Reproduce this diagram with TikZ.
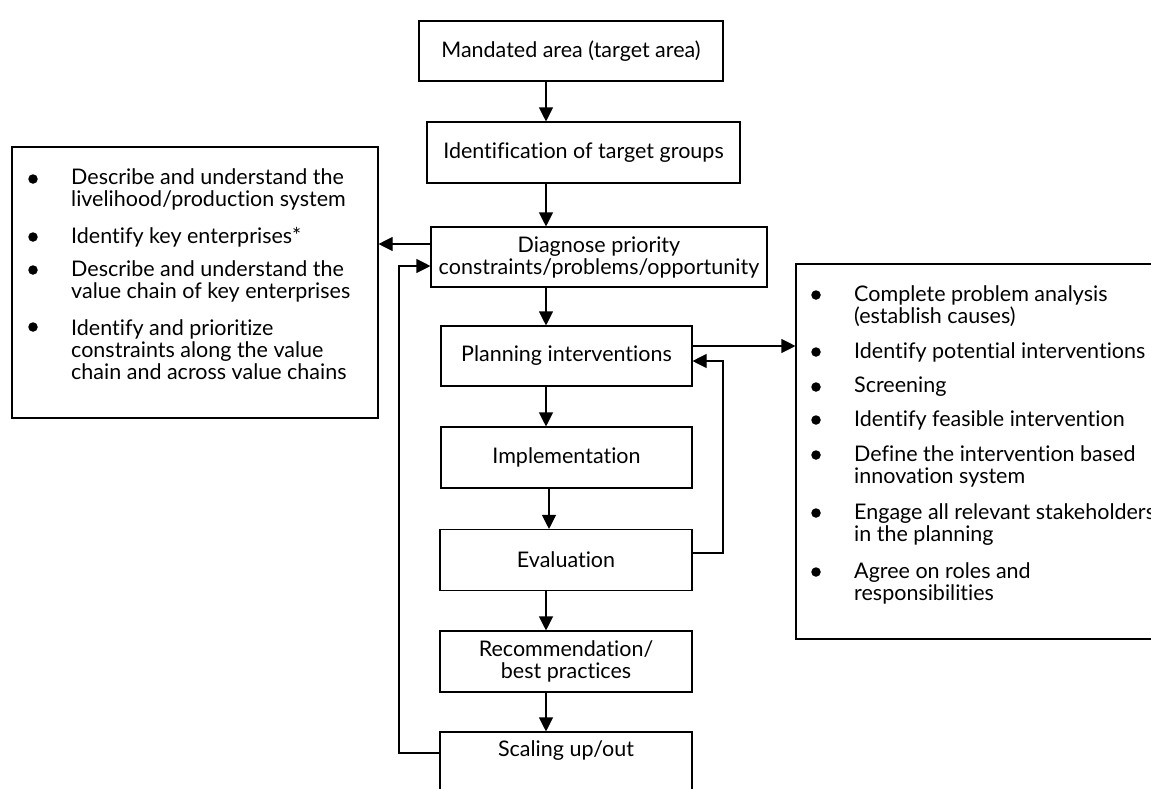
\documentclass[tikz,border=0pt]{standalone}
\usepackage{fontspec}
\setmainfont{Lato}[Ligatures={NoCommon}]
\usetikzlibrary{arrows.meta}
\begin{document}
\begin{tikzpicture}[x=1pt,y=-1pt, font=\fontsize{21.5}{22}\selectfont,
  box/.style={draw,line width=1.1pt,align=center,inner sep=0pt},
  arr/.style={line width=1.1pt,-{Triangle[length=14pt,width=14pt]}},
  conn/.style={line width=1.1pt},
  bul/.style={circle,fill,inner sep=0pt,minimum size=9.5pt},
  itm/.style={anchor=west,align=left,inner sep=0pt}]
\clip (0,0) rectangle (1151,788);
% main flow boxes
\node[box,minimum width=304pt,minimum height=60pt] (m) at (571,51) {Mandated area (target area)};
\node[box,minimum width=313pt,minimum height=61pt] (id) at (583.5,152.5) {Identification of target groups};
\node[box,minimum width=336pt,minimum height=60pt] (dg) at (599,257) {Diagnose priority\\constraints/problems/opportunity};
\node[box,minimum width=251pt,minimum height=60pt] (pl) at (566.5,356) {Planning interventions};
\node[box,minimum width=251pt,minimum height=61pt] (im) at (566.5,457.5) {Implementation};
\node[box,minimum width=252pt,minimum height=61pt] (ev) at (566,560) {Evaluation};
\node[box,minimum width=252pt,minimum height=61pt] (rc) at (566,661.5) {Recommendation/\\best practices};
\node[box,minimum width=252pt,minimum height=61pt] (sc) at (566,762.5) {Scaling up/out\\\strut};
% side boxes
\node[box,minimum width=366pt,minimum height=271pt] (lb) at (195,282.5) {};
\node[box,minimum width=364pt,minimum height=375pt] (rb) at (978,451.5) {};
% left box items
\node[bul] (lb1) at (33,179) {};
\node[itm] (lt1) at (71,189) {Describe and understand the\\livelihood/production system};
\node[bul] (lb2) at (33,237) {};
\node[itm] (lt2) at (71,237) {Identify key enterprises*};
\node[bul] (lb3) at (33,270) {};
\node[itm] (lt3) at (71,281) {Describe and understand the\\value chain of key enterprises};
\node[bul] (lb4) at (33,327) {};
\node[itm] (lt4) at (71,349.5) {Identify and prioritize\\constraints along the value\\chain and across value chains};
% right box items
\node[bul] (rb1) at (816,295) {};
\node[itm] (rt1) at (854,306) {Complete problem analysis\\(establish causes)};
\node[bul] (rb2) at (816,352) {};
\node[itm] (rt2) at (854,352) {Identify potential interventions};
\node[bul] (rb3) at (816,387) {};
\node[itm] (rt3) at (854,387) {Screening};
\node[bul] (rb4) at (816,420) {};
\node[itm] (rt4) at (854,420) {Identify feasible intervention};
\node[bul] (rb5) at (816,455) {};
\node[itm] (rt5) at (854,466.5) {Define the intervention based\\innovation system};
\node[bul] (rb6) at (816,513) {};
\node[itm] (rt6) at (854,525) {Engage all relevant stakeholders\\in the planning};
\node[bul] (rb7) at (816,572) {};
\node[itm] (rt7) at (854,583) {Agree on roles and\\responsibilities};
% helper coordinates
\coordinate (xa) at (546,0);
\coordinate (xb) at (549,0);
\coordinate (y244) at (0,244);
\coordinate (y266) at (0,266);
\coordinate (y346) at (0,346);
\coordinate (y361) at (0,361);
\coordinate (y553) at (0,553);
\coordinate (y753) at (0,753);
\coordinate (fa) at (399,753);
\coordinate (fb) at (399,266);
\coordinate (fc) at (723,553);
\coordinate (fd) at (723,361);
% flow arrows
\draw[arr] (m.south -| xa) -- (id.north -| xa);
\draw[arr] (id.south -| xa) -- (dg.north -| xa);
\draw[arr] (dg.south -| xa) -- (pl.north -| xa);
\draw[arr] (pl.south -| xa) -- (im.north -| xa);
\draw[arr] (im.south -| xb) -- (ev.north -| xb);
\draw[arr] (ev.south -| xa) -- (rc.north -| xa);
\draw[arr] (rc.south -| xa) -- (sc.north -| xa);
% side connections
\draw[arr] (dg.west |- y244) -- (lb.east |- y244);
\draw[arr] (pl.east |- y346) -- (rb.west |- y346);
% feedback loops
\draw[arr] (sc.west |- y753) -- (fa) -- (fb) -- (dg.west |- y266);
\draw[arr] (ev.east |- y553) -- (fc) -- (fd) -- (pl.east |- y361);
\end{tikzpicture}
\end{document}
